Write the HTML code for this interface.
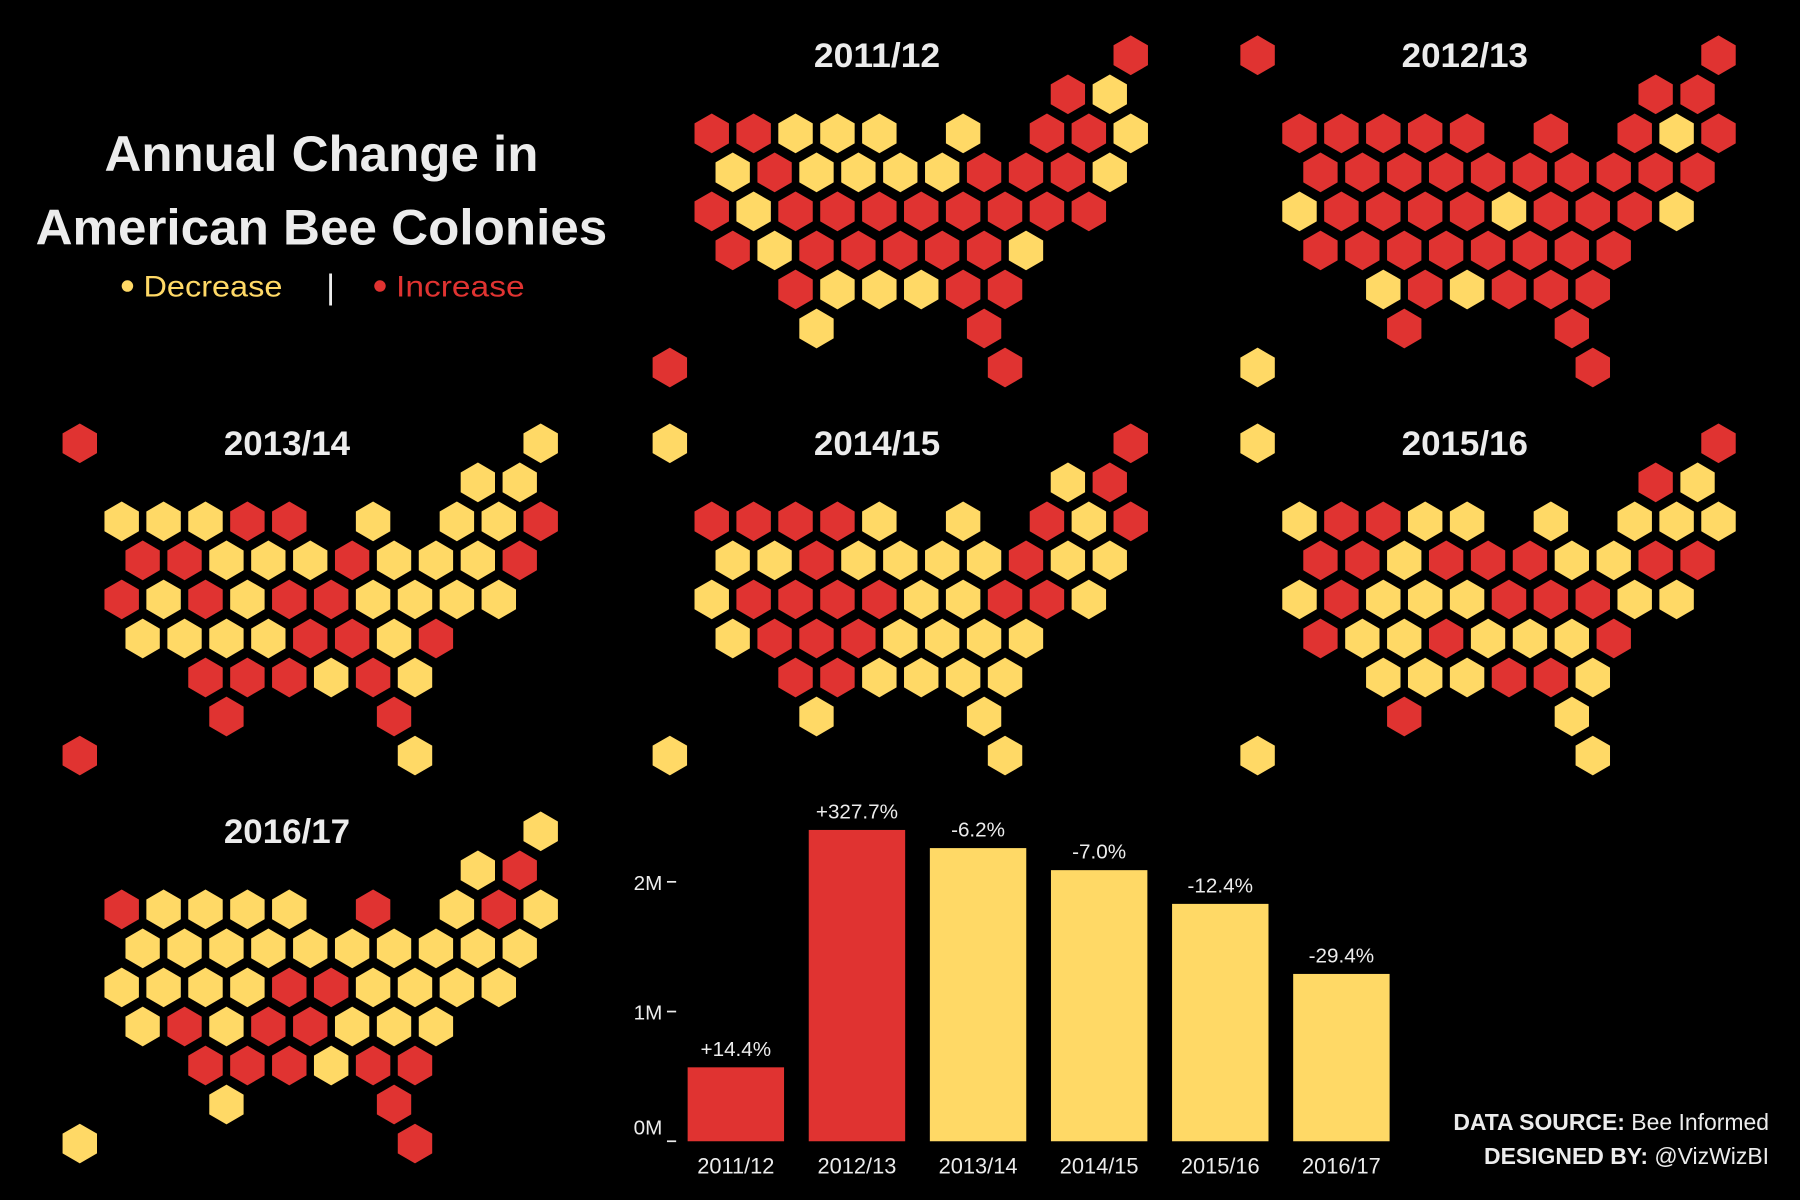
<!DOCTYPE html>
<html><head><meta charset="utf-8"><style>
html,body{margin:0;padding:0;background:#000;}
svg{display:block;font-family:"Liberation Sans",sans-serif;}
</style></head><body>
<svg id="chart" width="1800" height="1200" viewBox="0 0 1568 1045" xmlns="http://www.w3.org/2000/svg">
<rect width="1568" height="1045" fill="#000"/>
<g>
<text x="280" y="149" text-anchor="middle" fill="#ececec" font-size="44" font-weight="bold" textLength="378" lengthAdjust="spacingAndGlyphs">Annual Change in</text>
<text x="280" y="213" text-anchor="middle" fill="#ececec" font-size="44" font-weight="bold" textLength="498" lengthAdjust="spacingAndGlyphs">American Bee Colonies</text>
<circle cx="111" cy="249" r="5" fill="#ffd966"/>
<text x="125" y="258" fill="#ffd966" font-size="26" textLength="121" lengthAdjust="spacingAndGlyphs">Decrease</text>
<text x="288" y="260" text-anchor="middle" fill="#ececec" font-size="30">|</text>
<circle cx="331" cy="249" r="5" fill="#e03331"/>
<text x="345" y="258" fill="#e03331" font-size="26" textLength="112" lengthAdjust="spacingAndGlyphs">Increase</text>
</g>
<g id="maps"></g>
<g id="bars"></g>
<text x="1541" y="984" text-anchor="end" fill="#ececec" font-size="20"><tspan font-weight="bold">DATA SOURCE:</tspan> Bee Informed</text>
<text x="1541" y="1014" text-anchor="end" fill="#ececec" font-size="20"><tspan font-weight="bold">DESIGNED BY:</tspan> @VizWizBI</text>
</svg>
<script>
const RED = "#e03331", YEL = "#ffd966";
// hex tile layout: columns per row (k index)
const layoutRows = [[-1,10],[8,9],[0,1,2,3,4,6,8,9,10],[0,1,2,3,4,5,6,7,8,9],[0,1,2,3,4,5,6,7,8,9],[0,1,2,3,4,5,6,7],[2,3,4,5,6,7],[2,6],[-1,7]];
const panelYears = ["2011/12","2012/13","2013/14","2014/15","2015/16","2016/17"];
// R = increase, Y = decrease, - = no data
const panel1 = ["-R","RY","RRYYYYRRY","YRYYYYRRRY","RYRRRRRRRR","RYRRRRRY","RYYYRR","YR","RR"];
const panel2 = ["RR","RR","RRRRRRRYR","RRRRRRRRRR","YRRRRYRRRY","RRRRRRRR","YRYRRR","RR","YR"];
const panel3 = ["RY","YY","YYYRRYYYR","RRYYYRYYYR","RYRYRRYYYY","YYYYRRYR","RRRYRY","RR","RY"];
const panel4 = ["YR","YR","RRRRYYRYR","YYRYYYYRYY","YRRRRYYRRY","YRRRYYYY","RRYYYY","YY","YY"];
const panel5 = ["YR","RY","YRRYYYYYY","RRYRRRYYRR","YRYYYRRRYY","RYYRYYYR","YYYRRY","RY","YY"];
const panel6 = ["-Y","YR","RYYYYRYRY","YYYYYYYYYY","YYYYRRYYYY","YRYRRYYY","RRRYRR","YR","YR"];
const panelData = [panel1,panel2,panel3,panel4,panel5,panel6];
// bar chart data
const barYears = ["2011/12","2012/13","2013/14","2014/15","2015/16","2016/17"];
const barValues = [0.57,2.40,2.26,2.09,1.83,1.29]; // millions of colonies
const barPctLabels = ["+14.4%","+327.7%","-6.2%","-7.0%","-12.4%","-29.4%"];
const barIncrease = [true,true,false,false,false,false];
const yTicks = [0,1,2];
const yTickLabels = ["0M","1M","2M"];

const NS = "http://www.w3.org/2000/svg";
function mk(tag, attrs, parent){const e=document.createElementNS(NS,tag);for(const k in attrs)e.setAttribute(k,attrs[k]);parent.appendChild(e);return e;}

const maps = document.getElementById("maps");
const origins = [[620,48],[1132,48],[106,386],[620,386],[1132,386],[106,724]];
const DX = 36.5, DY = 34, R = 17.3;
function hexPts(cx,cy){let p=[];for(let i=0;i<6;i++){const a=Math.PI/180*(60*i-90);p.push((cx+R*Math.cos(a)).toFixed(1)+","+(cy+R*Math.sin(a)).toFixed(1));}return p.join(" ");}
panelData.forEach((pd,pi)=>{
  const [ox,oy] = origins[pi];
  const g = mk("g",{},maps);
  
  
  const t = mk("text",{x:ox+144,y:oy+10,"text-anchor":"middle",fill:"#ececec","font-size":"30","font-weight":"bold",textLength:"110",lengthAdjust:"spacingAndGlyphs"},g);
  t.textContent = panelYears[pi];
  
  
  layoutRows.forEach((ks,r)=>{
    ks.forEach((k,j)=>{
      const c = pd[r][j];
      if(c==="-"||!c) return;
      const cx = ox + k*DX + (r%2 ? DX/2 : 0);
      const cy = oy + r*DY;
      const h = mk("polygon",{points:hexPts(cx,cy),fill:c==="R"?RED:YEL},g);
      
      
    });
  });
});

const bars = document.getElementById("bars");
const y0 = 994, pxPerM = 113;
const yScale = v => y0 - v*pxPerM;
const xBand = i => 599 + i*105.5;
const BW = 84;
yTicks.forEach((v,i)=>{
  const y = i===0 ? y0-13 : yScale(v);
  const tl = mk("text",{x:577,y:y+7,"text-anchor":"end",fill:"#ececec","font-size":"18"},bars);
  tl.textContent = yTickLabels[i];
  
  
  const tk = mk("line",{x1:581,x2:589,y1:i===0?y0:yScale(v),y2:i===0?y0:yScale(v),stroke:"#ececec","stroke-width":"1.5"},bars);
  
  
});
barValues.forEach((v,i)=>{
  const x = xBand(i);
  const b = mk("rect",{x:x,y:yScale(v),width:BW,height:y0-yScale(v),fill:barIncrease[i]?RED:YEL},bars);
  
  
  const vl = mk("text",{x:x+BW/2,y:yScale(v)-10,"text-anchor":"middle",fill:"#ececec","font-size":"18"},bars);
  vl.textContent = barPctLabels[i];
  
  
  const xl = mk("text",{x:x+BW/2,y:1022,"text-anchor":"middle",fill:"#ececec","font-size":"19"},bars);
  xl.textContent = barYears[i];
  
  
});
</script>
</body></html>
